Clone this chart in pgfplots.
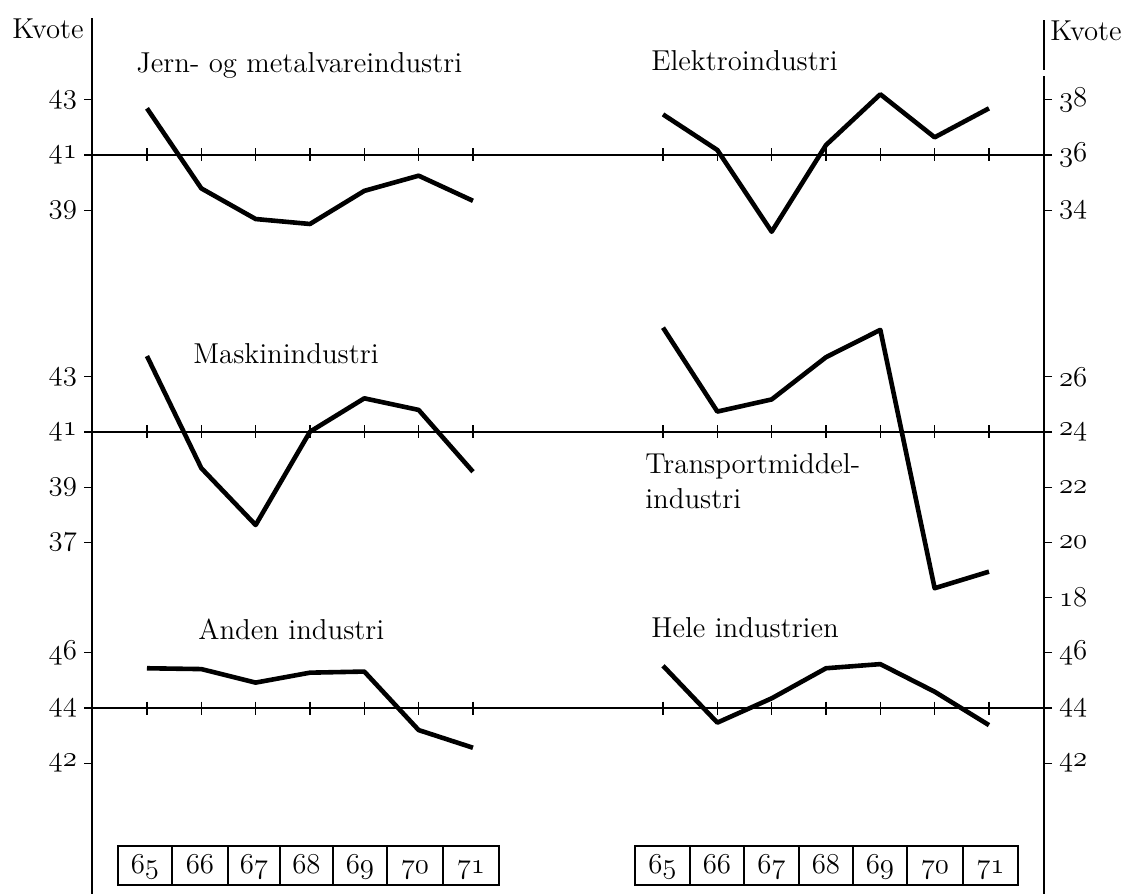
\documentclass[border=0pt]{standalone}
\usepackage{pgfplots}
\pgfplotsset{compat=1.18}
\newcommand\osf[1]{{\usefont{OML}{cmm}{m}{it}#1}}
\pgfplotsset{
  panel/.style={scale only axis, width=238pt, height=138pt, clip=false,
    axis x line=none, y axis line style={draw=none},
    ytick align=outside, major tick length=4pt,
    tick style={line width=0.6pt, black},
    tick label style={font=\fontsize{14.4}{17}\selectfont},
  },
  leftpanel/.style={panel, axis y line*=left, xmin=63.988, xmax=72.749},
  rightpanel/.style={panel, axis y line*=right, xmin=63.251, xmax=72.013},
  baseline/.style={black, line width=0.6pt},
  yrticks/.style={black, only marks, mark=|, mark size=3.25pt, mark options={line width=0.6pt}},
  dataline/.style={black, line width=2.3pt, line join=round, mark=none},
}
\begin{document}
\begin{tikzpicture}[font=\fontsize{14.4}{17}\selectfont]
\begin{axis}[name=bg, scale only axis, width=564.5pt, height=447pt,
  xmin=0, xmax=1129, ymin=0, ymax=894, y dir=reverse, hide axis, clip=false]
  % vertical axes
  \draw[line width=0.6pt] (axis cs:92,18) -- (axis cs:92,894);
  \draw[line width=0.6pt] (axis cs:1044,20) -- (axis cs:1044,70) (axis cs:1044,76) -- (axis cs:1044,894);
  % Kvote
  \node[anchor=base west, inner sep=0pt] at (axis cs:12,38) {Kvote};
  \node[anchor=base west, inner sep=0pt] at (axis cs:1050,40) {Kvote};
  % titles
  \node[anchor=base west, inner sep=0pt] at (axis cs:136,72) {Jern- og metalvareindustri};
  \node[anchor=base west, inner sep=0pt] at (axis cs:651,70) {Elektroindustri};
  \node[anchor=base west, inner sep=0pt] at (axis cs:193,363) {Maskinindustri};
  \node[anchor=base west, inner sep=0pt] at (axis cs:645,473) {Transportmiddel-};
  \node[anchor=base west, inner sep=0pt] at (axis cs:645,508) {industri};
  \node[anchor=base west, inner sep=0pt] at (axis cs:198,639) {Anden industri};
  \node[anchor=base west, inner sep=0pt] at (axis cs:651,637) {Hele industrien};
  % year boxes left
  \draw[line width=0.6pt] (axis cs:118,846) rectangle (axis cs:499,885);
  \draw[line width=0.6pt] (axis cs:172,846) -- (axis cs:172,885) (axis cs:228,846) -- (axis cs:228,885)
     (axis cs:280,846) -- (axis cs:280,885) (axis cs:333,846) -- (axis cs:333,885)
     (axis cs:387,846) -- (axis cs:387,885) (axis cs:443,846) -- (axis cs:443,885);
  \node[anchor=base, inner sep=0pt] at (axis cs:145,873) {\osf{65}};
  \node[anchor=base, inner sep=0pt] at (axis cs:200,873) {\osf{66}};
  \node[anchor=base, inner sep=0pt] at (axis cs:254,873) {\osf{67}};
  \node[anchor=base, inner sep=0pt] at (axis cs:306.5,873) {\osf{68}};
  \node[anchor=base, inner sep=0pt] at (axis cs:360,873) {\osf{69}};
  \node[anchor=base, inner sep=0pt] at (axis cs:415,873) {\osf{70}};
  \node[anchor=base, inner sep=0pt] at (axis cs:471,873) {\osf{71}};
  % year boxes right
  \draw[line width=0.6pt] (axis cs:635,846) rectangle (axis cs:1018,885);
  \draw[line width=0.6pt] (axis cs:690,846) -- (axis cs:690,885) (axis cs:744,846) -- (axis cs:744,885)
     (axis cs:799,846) -- (axis cs:799,885) (axis cs:853,846) -- (axis cs:853,885)
     (axis cs:907,846) -- (axis cs:907,885) (axis cs:963,846) -- (axis cs:963,885);
  \node[anchor=base, inner sep=0pt] at (axis cs:662.5,873) {\osf{65}};
  \node[anchor=base, inner sep=0pt] at (axis cs:717,873) {\osf{66}};
  \node[anchor=base, inner sep=0pt] at (axis cs:771.5,873) {\osf{67}};
  \node[anchor=base, inner sep=0pt] at (axis cs:826,873) {\osf{68}};
  \node[anchor=base, inner sep=0pt] at (axis cs:880,873) {\osf{69}};
  \node[anchor=base, inner sep=0pt] at (axis cs:935,873) {\osf{70}};
  \node[anchor=base, inner sep=0pt] at (axis cs:990.5,873) {\osf{71}};
  % panel anchors
  \coordinate (L1) at (axis cs:92,320.6);
  \coordinate (R1) at (axis cs:568,320.6);
  \coordinate (L2) at (axis cs:92,597.6);
  \coordinate (R2) at (axis cs:568,597.6);
  \coordinate (L3) at (axis cs:92,873.6);
  \coordinate (R3) at (axis cs:568,873.6);
\end{axis}

% Jern- og metalvareindustri
\begin{axis}[leftpanel, at={(L1)}, anchor=south west, ymin=35, ymax=45,
  ytick={39,41,43}, yticklabels={\osf{39},\osf{41},\osf{43}}]
  \addplot[baseline] coordinates {(63.988,41) (72.749,41)};
  \addplot[yrticks] coordinates {(65,41) (66,41) (67,41) (68,41) (69,41) (70,41) (71,41)};
  \addplot[dataline] coordinates {(65,42.69) (66,39.79) (67,38.68) (68,38.50) (69,39.70) (70,40.25) (71,39.34)};
\end{axis}

% Elektroindustri
\begin{axis}[rightpanel, at={(R1)}, anchor=south west, ymin=30, ymax=40,
  ytick={34,36,38}, yticklabels={\osf{34},\osf{36},\osf{38}}]
  \addplot[baseline] coordinates {(63.251,36) (72.013,36)};
  \addplot[yrticks] coordinates {(65,36) (66,36) (67,36) (68,36) (69,36) (70,36) (71,36)};
  \addplot[dataline] coordinates {(65,37.47) (66,36.18) (67,33.22) (68,36.36) (69,38.20) (70,36.64) (71,37.69)};
\end{axis}

% Maskinindustri
\begin{axis}[leftpanel, at={(L2)}, anchor=south west, ymin=35, ymax=45,
  ytick={37,39,41,43}, yticklabels={\osf{37},\osf{39},\osf{41},\osf{43}}]
  \addplot[baseline] coordinates {(63.988,41) (72.749,41)};
  \addplot[yrticks] coordinates {(65,41) (66,41) (67,41) (68,41) (69,41) (70,41) (71,41)};
  \addplot[dataline] coordinates {(65,43.75) (66,39.69) (67,37.63) (68,41.01) (69,42.22) (70,41.80) (71,39.56)};
\end{axis}

% Transportmiddelindustri
\begin{axis}[rightpanel, at={(R2)}, anchor=south west, ymin=18, ymax=28,
  ytick={18,20,22,24,26}, yticklabels={\osf{18},\osf{20},\osf{22},\osf{24},\osf{26}}]
  \addplot[baseline] coordinates {(63.251,24) (72.013,24)};
  \addplot[yrticks] coordinates {(65,24) (66,24) (67,24) (68,24) (69,24) (70,24) (71,24)};
  \addplot[dataline] coordinates {(65,27.78) (66,24.74) (67,25.18) (68,26.71) (69,27.70) (70,18.34) (71,18.94)};
\end{axis}

% Anden industri
\begin{axis}[leftpanel, at={(L3)}, anchor=south west, ymin=38, ymax=48,
  ytick={42,44,46}, yticklabels={\osf{42},\osf{44},\osf{46}}]
  \addplot[baseline] coordinates {(63.988,44) (72.749,44)};
  \addplot[yrticks] coordinates {(65,44) (66,44) (67,44) (68,44) (69,44) (70,44) (71,44)};
  \addplot[dataline] coordinates {(65,45.44) (66,45.41) (67,44.92) (68,45.28) (69,45.32) (70,43.20) (71,42.56)};
\end{axis}

% Hele industrien
\begin{axis}[rightpanel, at={(R3)}, anchor=south west, ymin=38, ymax=48,
  ytick={42,44,46}, yticklabels={\osf{42},\osf{44},\osf{46}}]
  \addplot[baseline] coordinates {(63.251,44) (72.013,44)};
  \addplot[yrticks] coordinates {(65,44) (66,44) (67,44) (68,44) (69,44) (70,44) (71,44)};
  \addplot[dataline] coordinates {(65,45.53) (66,43.47) (67,44.35) (68,45.44) (69,45.59) (70,44.59) (71,43.38)};
\end{axis}

\pgfresetboundingbox
\path (bg.south west) rectangle (bg.north east);
\end{tikzpicture}
\end{document}
